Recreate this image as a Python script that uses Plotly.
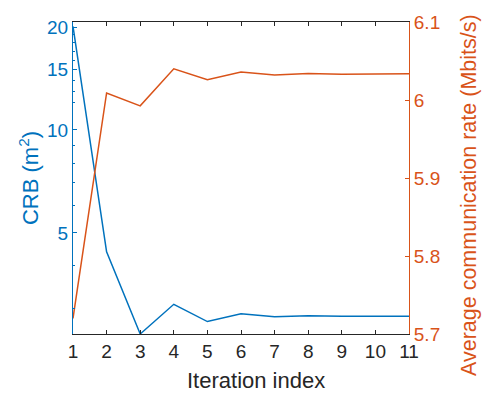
import plotly.graph_objects as go

iterations = [1, 2, 3, 4, 5, 6, 7, 8, 9, 10, 11]
crb = [20.1, 4.40, 2.53, 3.09, 2.75, 2.90, 2.84, 2.86, 2.85, 2.85, 2.85]
rate = [5.720, 6.009, 5.9925, 6.040, 6.026, 6.036, 6.032, 6.034, 6.033, 6.033, 6.0335]

left_ticks = [5, 10, 15, 20]
left_minor = [3, 4, 6, 7, 8, 9, 12, 13, 14, 16, 17, 18, 19]
right_ticks = [5.7, 5.8, 5.9, 6.0, 6.1]

BLUE = "#0072BD"
ORANGE = "#D95319"
DARK = "#262626"
FONT = "Liberation Sans, Arial, sans-serif"

fig = go.Figure()
fig.add_trace(go.Scatter(x=iterations, y=crb, mode="lines",
                         line=dict(color=BLUE, width=1.5), yaxis="y"))
fig.add_trace(go.Scatter(x=iterations, y=rate, mode="lines",
                         line=dict(color=ORANGE, width=1.5), yaxis="y2"))

fig.update_layout(
    width=482, height=395,
    margin=dict(l=73, r=73, t=22, b=61),
    paper_bgcolor="white", plot_bgcolor="white",
    showlegend=False,
    font=dict(family=FONT, size=19, color=DARK),
    xaxis=dict(
        range=[1, 11], tickmode="array", tickvals=iterations,
        ticks="inside", ticklen=4, tickcolor=DARK,
        showline=True, linecolor=DARK, linewidth=1, mirror="ticks",
        showgrid=False, zeroline=False,
        tickfont=dict(size=19, color=DARK),
    ),
    yaxis=dict(
        type="log", range=[0.403, 1.316],
        tickmode="array", tickvals=left_ticks, ticktext=[str(v) for v in left_ticks],
        ticks="inside", ticklen=4, tickcolor=BLUE,
        minor=dict(tickmode="array", tickvals=left_minor, ticks="inside",
                   ticklen=2, tickcolor=BLUE, showgrid=False),
        showline=True, linecolor=BLUE, linewidth=1,
        showgrid=False, zeroline=False,
        tickfont=dict(size=19, color=BLUE),
        title=dict(text="CRB (m<sup>2</sup>)", font=dict(size=22, color=BLUE), standoff=2),
    ),
    yaxis2=dict(
        overlaying="y", side="right", range=[5.7, 6.1],
        tickmode="array", tickvals=right_ticks,
        ticktext=["5.7", "5.8", "5.9", "6", "6.1"],
        ticks="inside", ticklen=4, tickcolor=ORANGE,
        showline=True, linecolor=ORANGE, linewidth=1,
        showgrid=False, zeroline=False,
        tickfont=dict(size=19, color=ORANGE),
    ),
    annotations=[
        dict(text="Iteration index", xref="paper", yref="paper",
             x=0.5446, y=-0.1506, xanchor="center", yanchor="middle",
             showarrow=False, font=dict(size=22, color=DARK)),
        dict(text="Average communication rate (Mbits/s)", xref="paper", yref="paper",
             x=1.1786, y=0.4455, xanchor="center", yanchor="middle", textangle=-90,
             showarrow=False, font=dict(size=21.5, color=ORANGE)),
    ],
)

fig.write_html("out.html")
